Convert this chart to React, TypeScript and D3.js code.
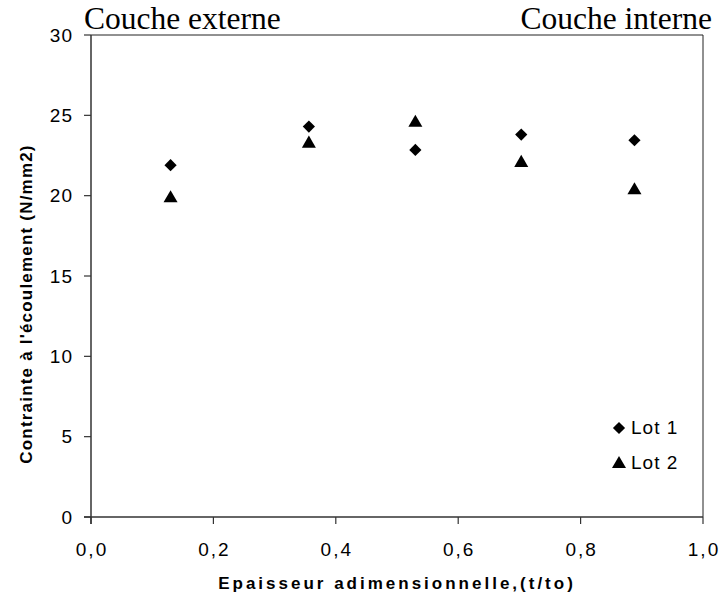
import React from "react";
import * as d3 from "d3";

const xPositions = [0.13, 0.356, 0.53, 0.703, 0.888];
const lot1 = [21.9, 24.3, 22.85, 23.8, 23.45];
const lot2 = [19.9, 23.3, 24.6, 22.1, 20.4];
const xTicks = [0, 0.2, 0.4, 0.6, 0.8, 1.0];
const yTicks = [0, 5, 10, 15, 20, 25, 30];
const seriesNames = ["Lot 1", "Lot 2"];

const W = 723;
const H = 601;
const left = 91;
const right = 703;
const top = 35;
const bottom = 517;

const x = d3.scaleLinear().domain([0, 1]).range([left, right]);
const y = d3.scaleLinear().domain([0, 30]).range([bottom, top]);

const diamond = d3.symbol().type(d3.symbolDiamond2).size(95);
const triangle = d3.symbol().type(d3.symbolTriangle).size(85);

const fmt = (v: number) => v.toFixed(1).replace(".", ",");
const sans = "'Liberation Sans', Arial, sans-serif";
const serif = "'Liberation Serif', 'Times New Roman', serif";

export default function App() {
  return (
    <svg width={W} height={H} style={{ position: "absolute", left: 0, top: 0, background: "#fff" }}>
      <rect x={0} y={0} width={W} height={H} fill="#fff" />
      {/* frame */}
      <line x1={left} x2={right} y1={top} y2={top} stroke="#222" strokeWidth={1} />
      <line x1={right} x2={right} y1={top} y2={bottom} stroke="#222" strokeWidth={1} />
      <line x1={left} x2={left} y1={top} y2={bottom + 7} stroke="#333" strokeWidth={1.5} />
      <line x1={left - 7} x2={right} y1={bottom} y2={bottom} stroke="#333" strokeWidth={1.5} />
      {yTicks.map((t) => (
        <g key={"y" + t}>
          <line x1={left - 7} x2={left} y1={y(t)} y2={y(t)} stroke="#333" strokeWidth={1.2} />
          <text x={73} y={y(t) + 6.5} textAnchor="end" fontFamily={sans} fontSize={19} letterSpacing={1} fill="#000">
            {t}
          </text>
        </g>
      ))}
      {xTicks.map((t) => (
        <g key={"x" + t}>
          <line x1={x(t)} x2={x(t)} y1={bottom} y2={bottom + 7} stroke="#333" strokeWidth={1.2} />
          <text x={x(t) + 1} y={556} textAnchor="middle" fontFamily={sans} fontSize={19} letterSpacing={2} fill="#000">
            {fmt(t)}
          </text>
        </g>
      ))}
      {xPositions.map((xv, i) => (
        <path key={"a" + i} d={diamond()!} transform={`translate(${x(xv)},${y(lot1[i])})`} fill="#000" />
      ))}
      {xPositions.map((xv, i) => (
        <path key={"b" + i} d={triangle()!} transform={`translate(${x(xv)},${y(lot2[i]) + 1})`} fill="#000" />
      ))}
      {/* legend */}
      <path d={diamond()!} transform="translate(619,428)" fill="#000" />
      <text x={631} y={434} fontFamily={sans} fontSize={19} letterSpacing={1} fill="#000">{seriesNames[0]}</text>
      <path d={triangle()!} transform="translate(619,464)" fill="#000" />
      <text x={631} y={469} fontFamily={sans} fontSize={19} letterSpacing={1} fill="#000">{seriesNames[1]}</text>
      {/* titles */}
      <text x={84} y={29} fontFamily={serif} fontSize={31.5} fill="#000">Couche externe</text>
      <text x={712} y={29} textAnchor="end" fontFamily={serif} fontSize={31.5} fill="#000">Couche interne</text>
      {/* axis labels */}
      <text
        transform="translate(32,304) rotate(-90)"
        textAnchor="middle"
        fontFamily={sans}
        fontSize={17}
        fontWeight="bold"
        letterSpacing={1.2}
        fill="#000"
      >
        Contrainte à l'écoulement (N/mm2)
      </text>
      <text x={397} y={589} textAnchor="middle" fontFamily={sans} fontSize={17} fontWeight="bold" letterSpacing={3} fill="#000">
        Epaisseur adimensionnelle,(t/to)
      </text>
    </svg>
  );
}
